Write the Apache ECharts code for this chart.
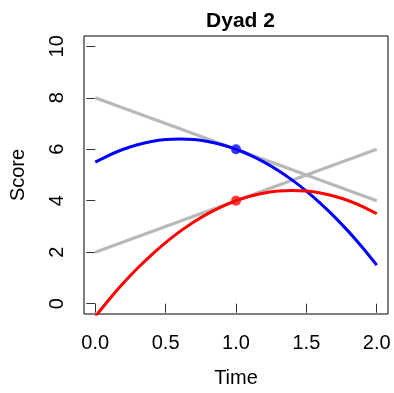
<!DOCTYPE html>
<html>
<head>
<meta charset="utf-8">
<script src="https://cdn.jsdelivr.net/npm/echarts@6/dist/echarts.min.js"></script>
<style>html,body{margin:0;padding:0;background:#fff}#c{width:394px;height:393px}</style>
</head>
<body>
<div id="c"></div>
<script>
const title = "Dyad 2";
const xName = "Time";
const yName = "Score";
const xTicks = [0, 0.5, 1, 1.5, 2];
const yTicks = [0, 2, 4, 6, 8, 10];
const times = [0,0.1,0.2,0.3,0.4,0.5,0.6,0.7,0.8,0.9,1.0,1.1,1.2,1.3,1.4,1.5,1.6,1.7,1.8,1.9,2.0];
const blueCurve = [5.5,5.775,6.0,6.175,6.3,6.375,6.4,6.375,6.3,6.175,6.0,5.775,5.5,5.175,4.8,4.375,3.9,3.375,2.8,2.175,1.5];
const redCurve = [-0.5,0.175,0.8,1.375,1.9,2.375,2.8,3.175,3.5,3.775,4.0,4.175,4.3,4.375,4.4,4.375,4.3,4.175,4.0,3.775,3.5];
const grayLineA = [[0, 8], [2, 4]];
const grayLineB = [[0, 2], [2, 6]];
const bluePoint = [[1, 6]];
const redPoint = [[1, 4]];

const font = "Liberation Sans, Arial, sans-serif";
const chart = echarts.init(document.getElementById('c'), null, {renderer: 'canvas'});
const pair = (xs, ys) => xs.map((x, i) => [x, ys[i]]);
chart.setOption({
  animation: false,
  title: {text: title, left: 235.5, textAlign: 'center', top: 6,
    textStyle: {fontFamily: font, fontWeight: 'bold', fontSize: 21, color: '#000'}},
  grid: {left: 83, top: 36, width: 305, height: 286, show: true, borderColor: '#000', borderWidth: 1, backgroundColor: 'transparent'},
  xAxis: {
    type: 'value', min: -0.08, max: 2.08,
    axisLine: {show: false},
    splitLine: {show: false},
    axisTick: {show: true, customValues: xTicks, length: 9, lineStyle: {color: '#333', width: 1}},
    axisLabel: {customValues: xTicks, margin: 19, fontFamily: font, fontSize: 20, color: '#000',
      formatter: v => v.toFixed(1)},
    name: xName, nameLocation: 'middle', nameGap: 54,
    nameTextStyle: {fontFamily: font, fontSize: 20, color: '#000'}
  },
  yAxis: {
    type: 'value', min: -0.4, max: 10.4,
    axisLine: {show: false},
    splitLine: {show: false},
    axisTick: {show: true, customValues: yTicks, length: 9, lineStyle: {color: '#333', width: 1}},
    axisLabel: {customValues: yTicks, rotate: 90, margin: 17, fontFamily: font, fontSize: 20, color: '#000'},
    name: yName, nameLocation: 'middle', nameGap: 56, nameRotate: 90,
    nameTextStyle: {fontFamily: font, fontSize: 20, color: '#000'}
  },
  series: [
    {type: 'line', data: grayLineA, symbol: 'none', lineStyle: {color: '#B8B8B8', width: 3}, clip: true},
    {type: 'line', data: grayLineB, symbol: 'none', lineStyle: {color: '#B8B8B8', width: 3}, clip: true},
    {type: 'line', data: pair(times, blueCurve), symbol: 'none', smooth: 0.2, lineStyle: {color: '#0000FF', width: 3}, clip: true},
    {type: 'line', data: pair(times, redCurve), symbol: 'none', smooth: 0.2, lineStyle: {color: '#FF0000', width: 3}, clip: true},
    {type: 'scatter', data: bluePoint, symbol: 'circle', symbolSize: 10, itemStyle: {color: '#0000FF'}},
    {type: 'scatter', data: redPoint, symbol: 'circle', symbolSize: 10, itemStyle: {color: '#FF0000'}}
  ]
});
</script>
</body>
</html>
